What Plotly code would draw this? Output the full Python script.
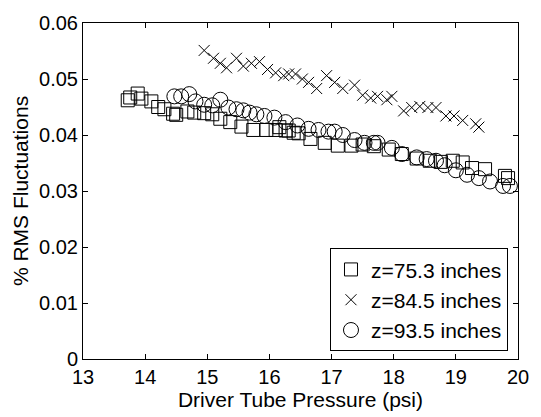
import plotly.graph_objects as go

sq_x = [13.72, 13.76, 13.88, 13.94, 14.10, 14.21, 14.31, 14.45, 14.50, 14.68, 14.79, 14.95, 15.08, 15.21,
        15.37, 15.55, 15.74, 15.95, 16.10, 16.16, 16.26, 16.31, 16.39, 16.47, 16.66, 16.89, 17.10, 17.32,
        17.50, 17.68, 17.92, 18.13, 18.37, 18.58, 18.76, 18.95, 19.11, 19.26, 19.47, 19.79, 19.84]
sq_y = [0.0462, 0.0467, 0.0474, 0.0465, 0.0460, 0.0450, 0.0446, 0.0438, 0.0436, 0.0442, 0.0440, 0.0439, 0.0437, 0.0429,
        0.0423, 0.0415, 0.0409, 0.0409, 0.0409, 0.0414, 0.0408, 0.0408, 0.0404, 0.0403, 0.0393, 0.0386, 0.0381, 0.0381,
        0.0383, 0.0380, 0.0374, 0.0366, 0.0358, 0.0354, 0.0352, 0.0354, 0.0351, 0.0341, 0.0339, 0.0327, 0.0323]

x_x = [14.95, 15.10, 15.21, 15.31, 15.47, 15.58, 15.71, 15.84, 15.97, 16.10, 16.23, 16.31, 16.42, 16.53,
       16.63, 16.76, 16.92, 17.05, 17.18, 17.37, 17.50, 17.63, 17.74, 17.89, 17.97, 18.16, 18.29, 18.42,
       18.55, 18.68, 18.84, 18.97, 19.11, 19.32, 19.37]
x_y = [0.0551, 0.0537, 0.0528, 0.0520, 0.0537, 0.0523, 0.0528, 0.0531, 0.0517, 0.0511, 0.0506, 0.0509, 0.0509, 0.0500,
       0.0494, 0.0483, 0.0506, 0.0494, 0.0483, 0.0489, 0.0471, 0.0466, 0.0469, 0.0463, 0.0469, 0.0443, 0.0449, 0.0451,
       0.0449, 0.0449, 0.0434, 0.0434, 0.0426, 0.0420, 0.0414]

ci_x = [14.47, 14.58, 14.71, 14.81, 14.95, 15.08, 15.21, 15.34, 15.47, 15.58, 15.68, 15.79, 15.92, 16.08,
        16.26, 16.45, 16.63, 16.79, 16.95, 17.05, 17.18, 17.37, 17.53, 17.68, 17.74, 17.97, 18.13, 18.37,
        18.53, 18.68, 18.82, 19.00, 19.18, 19.37, 19.55, 19.76, 19.87]
ci_y = [0.0469, 0.0469, 0.0473, 0.0460, 0.0454, 0.0453, 0.0463, 0.0449, 0.0446, 0.0444, 0.0440, 0.0437, 0.0434, 0.0431,
        0.0423, 0.0417, 0.0411, 0.0409, 0.0406, 0.0406, 0.0400, 0.0391, 0.0386, 0.0386, 0.0386, 0.0377, 0.0366, 0.0360,
        0.0357, 0.0354, 0.0346, 0.0337, 0.0329, 0.0323, 0.0317, 0.0309, 0.0309]

names = ["z=75.3 inches", "z=84.5 inches", "z=93.5 inches"]
x_ticks = [13, 14, 15, 16, 17, 18, 19, 20]
y_ticks = [0, 0.01, 0.02, 0.03, 0.04, 0.05, 0.06]
y_tick_text = ["0", "0.01", "0.02", "0.03", "0.04", "0.05", "0.06"]

FAM = "Liberation Sans, Arial, sans-serif"
tick_font = dict(family=FAM, size=20, color="black")
label_font = dict(family=FAM, size=21, color="black")

fig = go.Figure()
fig.add_trace(go.Scatter(x=sq_x, y=sq_y, mode="markers", name=names[0],
                         marker=dict(symbol="square-open", size=13, color="black", line=dict(width=1, color="black"))))
fig.add_trace(go.Scatter(x=x_x, y=x_y, mode="markers", name=names[1],
                         marker=dict(symbol="x-thin-open", size=11, color="black", line=dict(width=1, color="black"))))
fig.add_trace(go.Scatter(x=ci_x, y=ci_y, mode="markers", name=names[2],
                         marker=dict(symbol="circle-open", size=15, color="black", line=dict(width=1, color="black"))))

axis_common = dict(showgrid=False, zeroline=False, showline=True, linecolor="black", linewidth=1,
                   mirror="ticks", ticks="inside", ticklen=5, tickcolor="black", tickfont=tick_font)

fig.update_xaxes(range=[13, 20], tickvals=x_ticks,
                 title=dict(text="Driver Tube Pressure (psi)", font=label_font, standoff=2), **axis_common)
fig.update_yaxes(range=[0, 0.06], tickvals=y_ticks, ticktext=y_tick_text,
                 title=dict(text="% RMS Fluctuations", font=label_font, standoff=4), **axis_common)

fig.update_layout(
    width=541, height=417,
    margin=dict(l=83, r=14, t=16, b=51),
    paper_bgcolor="white", plot_bgcolor="white",
    font=label_font,
    legend=dict(x=0.977, y=0.023, xanchor="right", yanchor="bottom", bordercolor="black", borderwidth=1,
                bgcolor="white", font=label_font, itemsizing="trace", tracegroupgap=0),
    showlegend=True,
)

fig.write_html("out.html")
